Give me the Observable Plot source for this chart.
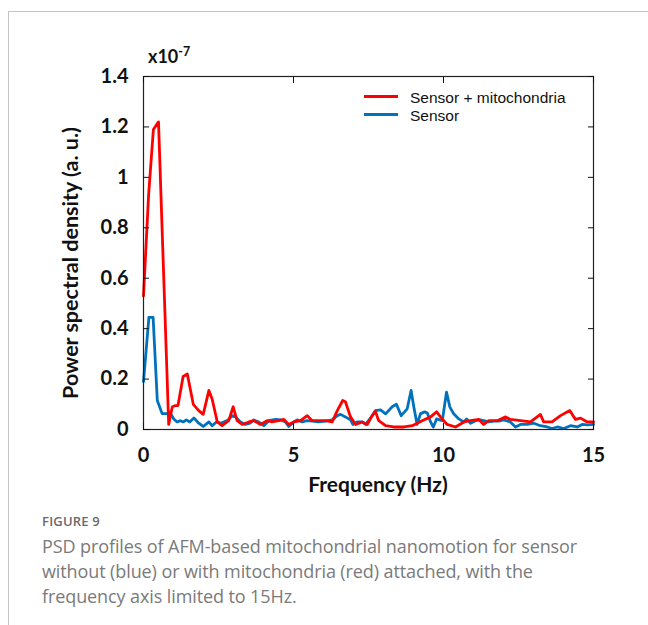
<!DOCTYPE html>
<html><head><meta charset="utf-8">
<script src="https://cdn.jsdelivr.net/npm/d3@7"></script>
<script src="https://cdn.jsdelivr.net/npm/@observablehq/plot@0.6"></script>
<style>
body{margin:0;background:#fff;width:648px;height:625px;overflow:hidden;position:relative;font-family:"Open Sans",sans-serif}
#frame{position:absolute;left:8px;top:11px;right:0;bottom:0;border-left:1px solid #c4c4c4;border-top:1px solid #c4c4c4}
#chart{position:absolute;left:0;top:0}
#cap{position:absolute;left:42px;top:512px;width:560px}
.fig{font-size:13px;font-weight:600;color:#6a6a6a;letter-spacing:0.2px}
.txt{font-size:18px;color:#7a7a7a;line-height:25px;margin-top:4px;letter-spacing:-0.1px}
</style>
</head><body>
<div id="frame"></div>
<div id="chart"></div>
<div id="cap"><div class="fig">FIGURE 9</div><div class="txt">PSD profiles of AFM-based mitochondrial nanomotion for sensor without (blue) or with mitochondria (red) attached, with the frequency axis limited to 15Hz.</div></div>
<script>
// Sensor + mitochondria (red)
const redFreq = [0,0.17,0.33,0.5,0.84,0.96,1.07,1.15,1.32,1.46,1.66,1.84,1.99,2.18,2.29,2.46,2.62,2.84,2.99,3.12,3.29,3.51,3.68,3.9,4.12,4.29,4.51,4.68,4.84,5.01,5.23,5.46,5.62,5.84,6.07,6.29,6.46,6.64,6.73,6.9,7.07,7.29,7.46,7.62,7.73,7.84,8.07,8.34,8.68,8.96,9.29,9.57,9.77,9.9,10.12,10.4,10.68,10.9,11.18,11.34,11.51,11.79,12.07,12.23,12.57,12.9,13.23,13.34,13.62,13.9,14.21,14.4,14.57,14.79,15];
const redPSD = [0.53,0.93,1.19,1.22,0.02,0.09,0.095,0.095,0.21,0.22,0.10,0.075,0.06,0.155,0.12,0.03,0.015,0.035,0.09,0.035,0.02,0.03,0.035,0.02,0.035,0.03,0.035,0.04,0.02,0.03,0.035,0.055,0.035,0.035,0.035,0.03,0.075,0.115,0.11,0.05,0.02,0.03,0.02,0.055,0.072,0.035,0.015,0.01,0.01,0.015,0.035,0.05,0.07,0.05,0.02,0.01,0.03,0.035,0.04,0.02,0.035,0.035,0.05,0.04,0.035,0.03,0.06,0.03,0.03,0.055,0.075,0.04,0.045,0.03,0.03];
// Sensor (blue)
const blueFreq = [0,0.18,0.32,0.46,0.62,0.78,0.88,1.01,1.12,1.23,1.32,1.43,1.54,1.68,1.84,1.99,2.18,2.29,2.43,2.57,2.79,2.96,3.07,3.23,3.4,3.55,3.68,3.84,4.01,4.18,4.4,4.58,4.73,4.84,5.01,5.12,5.29,5.45,5.62,5.84,6.07,6.29,6.46,6.57,6.73,6.9,6.98,7.12,7.29,7.4,7.6,7.73,7.9,8.07,8.29,8.43,8.59,8.79,8.92,9.01,9.12,9.23,9.37,9.46,9.57,9.66,9.77,9.96,10.1,10.21,10.34,10.51,10.68,10.77,10.9,11.07,11.23,11.34,11.51,11.68,11.84,12.01,12.23,12.4,12.57,12.79,13.01,13.23,13.46,13.62,13.79,14.01,14.23,14.46,14.62,14.79,15];
const bluePSD = [0.19,0.445,0.445,0.115,0.063,0.063,0.068,0.042,0.03,0.035,0.03,0.038,0.03,0.046,0.025,0.012,0.03,0.015,0.03,0.025,0.035,0.055,0.05,0.03,0.02,0.025,0.038,0.03,0.015,0.035,0.04,0.038,0.03,0.012,0.03,0.038,0.03,0.035,0.033,0.03,0.033,0.038,0.055,0.06,0.05,0.038,0.02,0.03,0.03,0.02,0.05,0.075,0.078,0.062,0.09,0.1,0.055,0.082,0.155,0.09,0.02,0.062,0.07,0.065,0.03,0.01,0.042,0.035,0.148,0.09,0.062,0.042,0.03,0.042,0.025,0.035,0.038,0.035,0.03,0.033,0.033,0.038,0.03,0.01,0.02,0.02,0.025,0.015,0.01,0.004,0.01,0.004,0.015,0.01,0.02,0.018,0.02];
const xTicks = [0,5,10,15];
const yTicks = [0,0.2,0.4,0.6,0.8,1,1.2,1.4];
const seriesNames = ["Sensor + mitochondria","Sensor"];
const seriesColors = ["#ff0000","#0072bd"];
const xTitle = "Frequency (Hz)";
const yTitle = "Power spectral density (a. u.)";

const red = redFreq.map((f,i)=>({f, v: redPSD[i]}));
const blue = blueFreq.map((f,i)=>({f, v: bluePSD[i]}));
const fmt = d => String(+d.toFixed(1));

const svg = Plot.plot({
  width: 648, height: 500,
  marginTop: 76, marginBottom: 71, marginLeft: 143, marginRight: 55,
  style: {fontFamily: "Lato, sans-serif", fontSize: "20px", fontWeight: "bold", color: "#111", background: "transparent"},
  x: {domain: [0, 15]},
  y: {domain: [0, 1.4]},
  marks: [
    Plot.line(blue, {x: "f", y: "v", stroke: seriesColors[1], strokeWidth: 2.8}),
    Plot.line(red, {x: "f", y: "v", stroke: seriesColors[0], strokeWidth: 2.8}),
    Plot.frame({stroke: "#222", strokeWidth: 1.2}),
    Plot.axisY(yTicks, {anchor: "left", tickSize: -6, tickPadding: 21, tickFormat: fmt, label: null}),
    Plot.axisY(yTicks, {anchor: "right", tickSize: -6, tickFormat: () => "", label: null}),
    Plot.axisX(xTicks, {anchor: "bottom", tickSize: -6, tickPadding: 24, tickFormat: fmt, label: null}),
    Plot.axisX(xTicks, {anchor: "top", tickSize: -6, tickFormat: () => "", label: null})
  ]
});
const s = d3.select(svg);
s.append("text").attr("transform","translate(70,263) rotate(-90)")
  .attr("text-anchor","middle").attr("dominant-baseline","central")
  .style("font","bold 21.5px Lato, sans-serif").attr("fill","#111").text(yTitle);
s.append("text").attr("x",378).attr("y",483)
  .attr("text-anchor","middle").attr("dominant-baseline","central")
  .style("font","bold 21px Lato, sans-serif").attr("fill","#111").text(xTitle);
const ex = s.append("text").attr("x",148).attr("y",63).attr("text-anchor","start")
  .style("font","bold 18px Lato, sans-serif").attr("fill","#111");
ex.append("tspan").text("x10");
ex.append("tspan").attr("dy",-7).style("font-size","12.5px").text("-7");
const lg = s.append("g");
const ly = [96.5, 114.5];
seriesNames.forEach((n,i)=>{
  lg.append("line").attr("x1",364).attr("x2",398).attr("y1",ly[i]).attr("y2",ly[i])
    .attr("stroke",seriesColors[i]).attr("stroke-width",3);
  lg.append("text").attr("x",410).attr("y",ly[i]+1).attr("text-anchor","start").attr("dominant-baseline","central")
    .style("font","15.5px 'Liberation Sans', Arial, sans-serif").attr("fill","#111").text(n);
});
document.getElementById("chart").appendChild(svg);
</script>
</body></html>
